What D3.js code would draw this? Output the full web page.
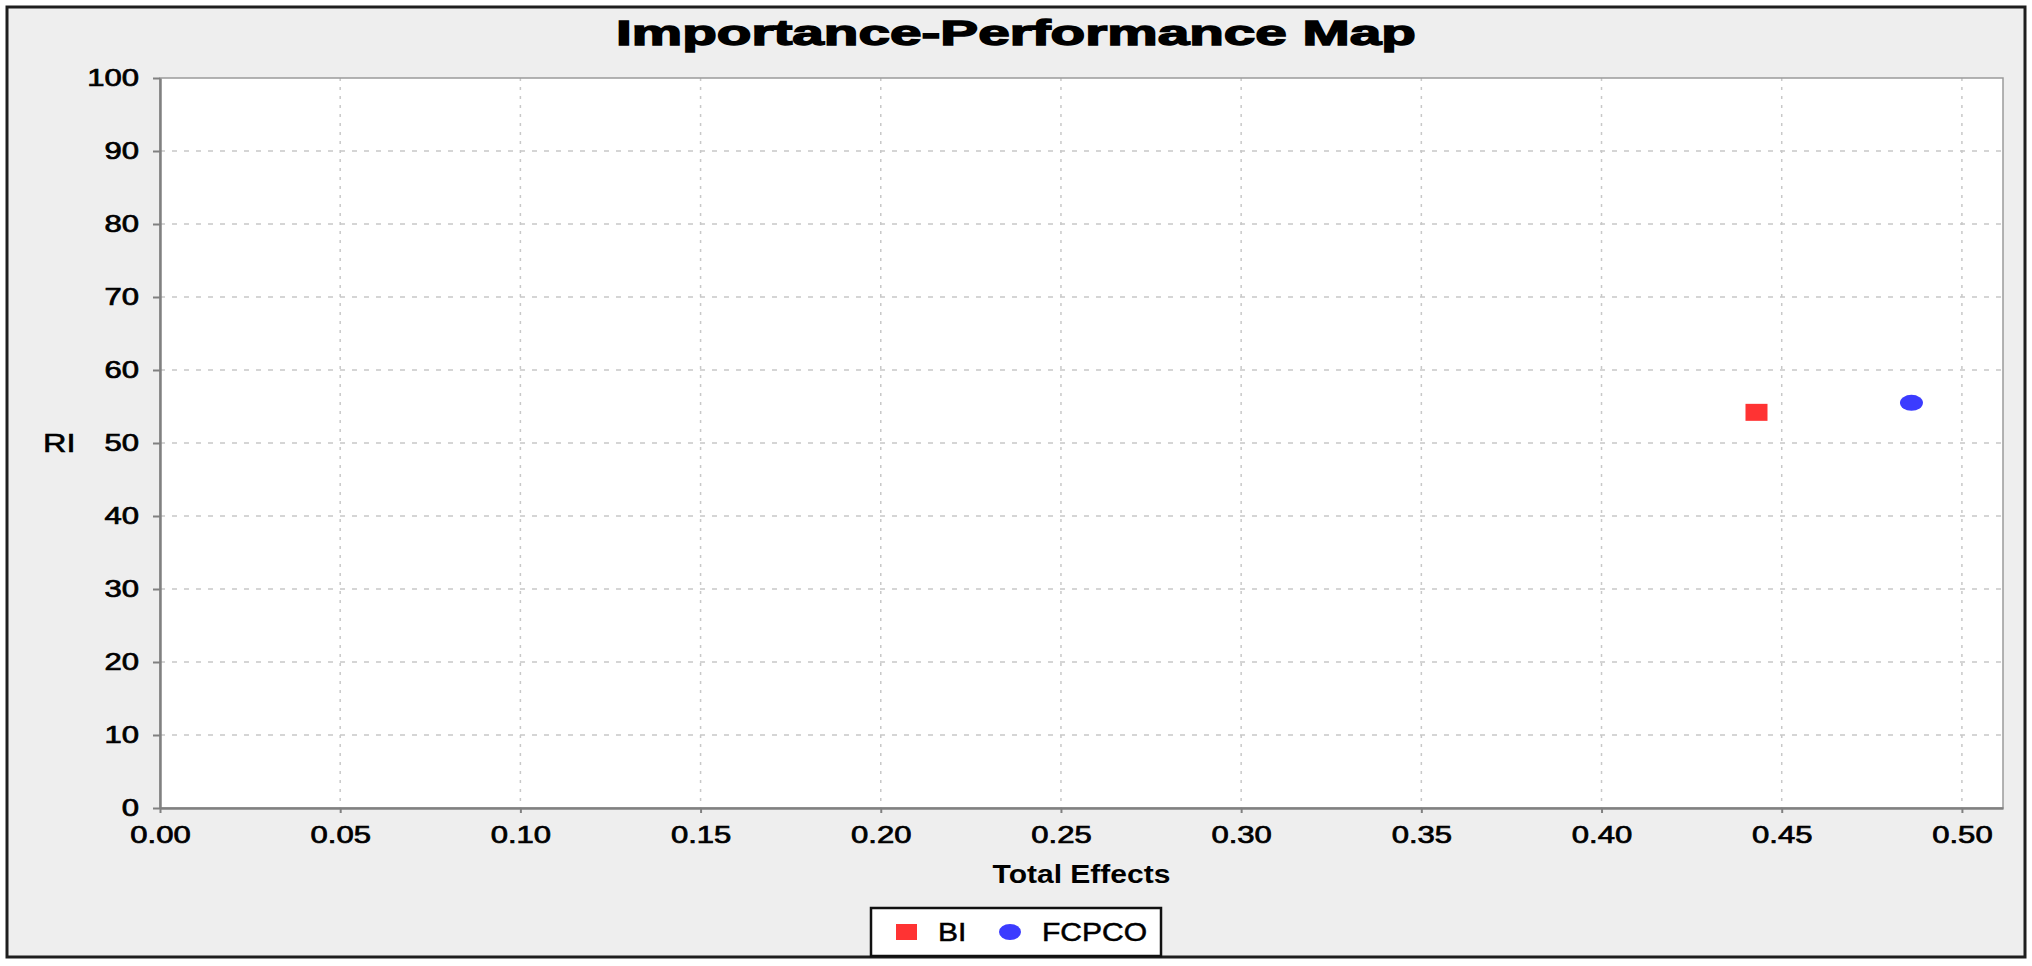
<!DOCTYPE html>
<html>
<head>
<meta charset="utf-8">
<script src="https://cdn.jsdelivr.net/npm/d3@7"></script>
<style>
  body { margin: 0; background: #fff; }
  svg { display: block; font-family: "Liberation Sans", Arial, sans-serif; }
</style>
</head>
<body>
<svg id="chart" width="2032" height="966"></svg>
<script>
// data
const seriesNames = ["BI", "FCPCO"];
const totalEffects = [0.443, 0.486];
const performance = [54.2, 55.5];
const seriesColors = ["#ff3333", "#3b3bff"];
const xTickValues = [0.00, 0.05, 0.10, 0.15, 0.20, 0.25, 0.30, 0.35, 0.40, 0.45, 0.50];
const yTickValues = [0, 10, 20, 30, 40, 50, 60, 70, 80, 90, 100];
const xMax = 0.5114;

const svg = d3.select("#chart");
const W = 2032;
const frame = { x: 7, y: 7, w: 2018, h: 950 };
const plot = { left: 160, top: 78, right: 2003, bottom: 808 };

// widen text like the source image (it was stretched horizontally)
function stretch(sel, k) {
    sel.each(function () {
        const w = this.getComputedTextLength();
        d3.select(this).attr("textLength", w * k).attr("lengthAdjust", "spacingAndGlyphs");
    });
}

svg.append("rect")
    .attr("x", frame.x).attr("y", frame.y)
    .attr("width", frame.w).attr("height", frame.h)
    .attr("fill", "#eeeeee")
    .attr("stroke", "#1e1e1e")
    .attr("stroke-width", 3);

const x = d3.scaleLinear().domain([0, xMax]).range([plot.left, plot.right]);
const y = d3.scaleLinear().domain([0, 100]).range([plot.bottom, plot.top]);

// plot background
svg.append("rect")
    .attr("x", plot.left).attr("y", plot.top)
    .attr("width", plot.right - plot.left).attr("height", plot.bottom - plot.top)
    .attr("fill", "#ffffff");

// grid
svg.append("g").selectAll("line")
    .data(yTickValues.slice(1, -1))
    .enter().append("line")
    .attr("x1", plot.left).attr("x2", plot.right)
    .attr("y1", d => y(d)).attr("y2", d => y(d))
    .attr("stroke", "#c8c8c8")
    .attr("stroke-width", 1.5)
    .attr("stroke-dasharray", "5 7");

svg.append("g").selectAll("line")
    .data(xTickValues.slice(1))
    .enter().append("line")
    .attr("x1", d => x(d)).attr("x2", d => x(d))
    .attr("y1", plot.top).attr("y2", plot.bottom)
    .attr("stroke", "#c8c8c8")
    .attr("stroke-width", 1.5)
    .attr("stroke-dasharray", "3 6");

// plot outline
svg.append("rect")
    .attr("x", plot.left).attr("y", plot.top)
    .attr("width", plot.right - plot.left).attr("height", plot.bottom - plot.top)
    .attr("fill", "none")
    .attr("stroke", "#9a9a9a")
    .attr("stroke-width", 1.5);

// axes
const xAxis = svg.append("g")
    .attr("transform", `translate(0,${plot.bottom})`)
    .call(d3.axisBottom(x).tickValues(xTickValues).tickFormat(d3.format(".2f")).tickSizeInner(5).tickSizeOuter(0).tickPadding(14));

const yAxis = svg.append("g")
    .attr("transform", `translate(${plot.left},0)`)
    .call(d3.axisLeft(y).tickValues(yTickValues).tickFormat(d3.format("d")).tickSizeInner(7).tickSizeOuter(0).tickPadding(14));

[xAxis, yAxis].forEach(ax => {
    ax.select(".domain").attr("stroke", "#808080").attr("stroke-width", 2.5);
    ax.selectAll(".tick line").attr("stroke", "#808080").attr("stroke-width", 2);
    ax.selectAll(".tick text")
        .attr("fill", "#000")
        .style("font-size", "23px")
        .style("font-family", "'Liberation Sans', Arial, sans-serif")
        .attr("stroke", "#000")
        .attr("stroke-width", 0.7);
});
stretch(xAxis.selectAll(".tick text"), 1.35);
stretch(yAxis.selectAll(".tick text"), 1.35);

// points
const points = seriesNames.map((name, i) => ({ name, te: totalEffects[i], perf: performance[i], color: seriesColors[i] }));

svg.append("rect")
    .attr("x", x(points[0].te) - 11)
    .attr("y", y(points[0].perf) - 8.5)
    .attr("width", 22).attr("height", 17)
    .attr("fill", points[0].color);

svg.append("ellipse")
    .attr("cx", x(points[1].te))
    .attr("cy", y(points[1].perf))
    .attr("rx", 11.5).attr("ry", 8)
    .attr("fill", points[1].color);

// title and axis labels
const title = svg.append("text")
    .attr("x", W / 2).attr("y", 45)
    .attr("text-anchor", "middle")
    .style("font-size", "35px")
    .style("font-weight", "bold")
    .attr("fill", "#000")
    .attr("stroke", "#000").attr("stroke-width", 1.4)
    .text("Importance-Performance Map");
title.attr("textLength", 800).attr("lengthAdjust", "spacingAndGlyphs");

const xLabel = svg.append("text")
    .attr("x", (plot.left + plot.right) / 2).attr("y", 883)
    .attr("text-anchor", "middle")
    .style("font-size", "25px")
    .style("font-weight", "bold")
    .attr("fill", "#000")
    .text("Total Effects");
stretch(xLabel, 1.2);

const yLabel = svg.append("text")
    .attr("x", 43).attr("y", 452)
    .style("font-size", "25px")
    .attr("fill", "#000")
    .attr("stroke", "#000").attr("stroke-width", 0.6)
    .text("RI");
stretch(yLabel, 1.3);

// legend
const legend = svg.append("g");
legend.append("rect")
    .attr("x", 871).attr("y", 908)
    .attr("width", 290).attr("height", 48)
    .attr("fill", "#fff")
    .attr("stroke", "#111")
    .attr("stroke-width", 2.5);

legend.append("rect")
    .attr("x", 896).attr("y", 924)
    .attr("width", 21).attr("height", 16)
    .attr("fill", seriesColors[0]);
const l1 = legend.append("text")
    .attr("x", 938).attr("y", 941)
    .style("font-size", "25px")
    .attr("fill", "#000").attr("stroke", "#000").attr("stroke-width", 0.5)
    .text(seriesNames[0]);
stretch(l1, 1.2);

legend.append("ellipse")
    .attr("cx", 1010).attr("cy", 932)
    .attr("rx", 11).attr("ry", 8)
    .attr("fill", seriesColors[1]);
const l2 = legend.append("text")
    .attr("x", 1042).attr("y", 941)
    .style("font-size", "25px")
    .attr("fill", "#000").attr("stroke", "#000").attr("stroke-width", 0.5)
    .text(seriesNames[1]);
stretch(l2, 1.2);
</script>
</body>
</html>
